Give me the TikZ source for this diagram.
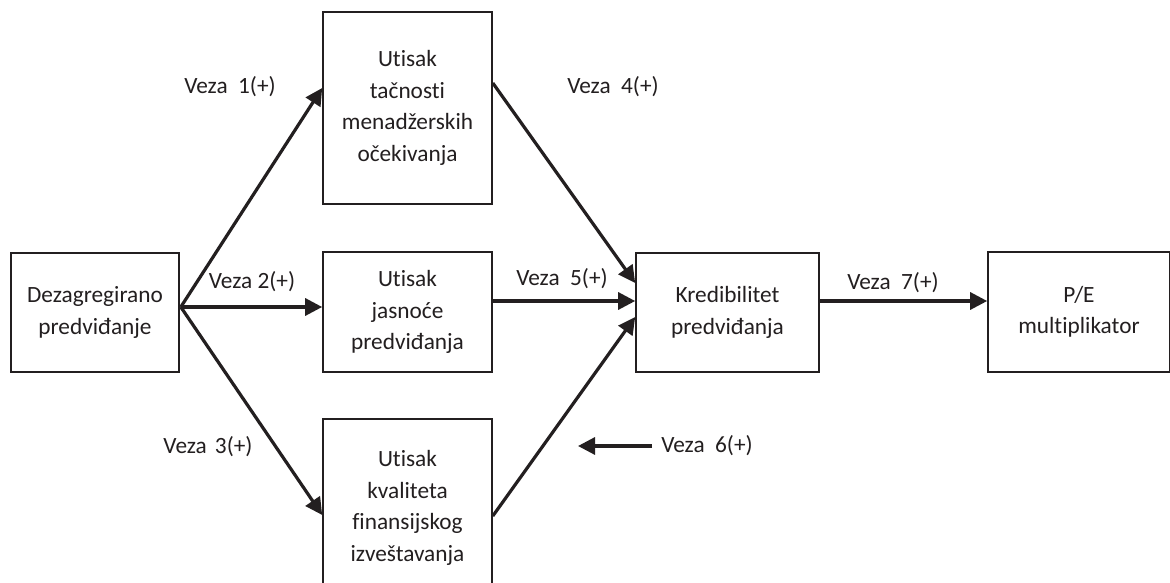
\documentclass[tikz,border=0pt]{standalone}
\usepackage{fontspec}
\setmainfont{Carlito}[Ligatures=NoCommon]
\usetikzlibrary{arrows.meta,calc}
\definecolor{ink}{HTML}{231F20}
\begin{document}
\begin{tikzpicture}[x=1pt,y=-1pt,
  box/.style={draw=ink,line width=1.6pt,inner sep=0pt,align=center,
    font=\fontsize{23.3}{31.5}\selectfont,text=ink},
  lbl/.style={inner sep=0pt,font=\fontsize{23.3}{31.5}\selectfont,text=ink},
  arr/.style={draw=ink,line width=3.2pt,-{Triangle[length=17pt,width=17pt]}}
]
\useasboundingbox[fill=white] (0,0) rectangle (1170,583);

% boxes
\node[box,minimum width=168pt,minimum height=119pt] (A) at (95,312.5)
  {Dezagregirano\\predviđanje};
\node[box,minimum width=169pt,minimum height=192pt] (B) at (407.5,108)
  {Utisak\\tačnosti\\menadžerskih\\očekivanja};
\node[box,minimum width=169pt,minimum height=120pt] (C) at (407.5,312)
  {Utisak\\jasnoće\\predviđanja};
\node[box,minimum width=169pt,minimum height=178pt] (D) at (407.5,508)
  {Utisak\\kvaliteta\\finansijskog\\izveštavanja};
\node[box,minimum width=183pt,minimum height=119pt] (E) at (727.5,312.5)
  {Kredibilitet\\predviđanja};
\node[box,minimum width=182pt,minimum height=120pt] (F) at (1079,312)
  {P/E\\multiplikator};

% connectors
\draw[arr] ($(A.east)+(1,-5.5)$) -- ($(B.west)+(0,-20)$);
\draw[arr] ($(A.east)+(1,-5.5)$) -- ($(C.west)+(0,-5)$);
\draw[arr] ($(A.east)+(1,-5.5)$) -- ($(D.west)+(0,7)$);
\draw[arr] ($(B.east)+(0,-25)$) -- ($(E.west)+(0,-29.5)$);
\draw[arr] ($(C.east)+(0,-11)$) -- ($(E.west)+(0,-11.5)$);
\draw[arr] ($(D.east)+(0,8)$) -- ($(E.west)+(0,4.5)$);
\draw[arr] ($(E.east)+(0,-11.5)$) -- ($(F.west)+(0,-11)$);
\coordinate (v6s) at (652,446);
\coordinate (v6e) at (578,446);
\draw[arr] (v6s) -- (v6e);

% labels
\node[lbl] (l1) at (230,87) {Veza\hspace{0.45em}1(+)};
\node[lbl] (l2) at (252,282) {Veza 2(+)};
\node[lbl] (l3) at (208,447) {Veza\hspace{0.35em}3(+)};
\node[lbl] (l4) at (613,87) {Veza\hspace{0.45em}4(+)};
\node[lbl] (l5) at (562,279) {Veza\hspace{0.45em}5(+)};
\node[lbl] (l6) at (707,446) {Veza\hspace{0.45em}6(+)};
\node[lbl] (l7) at (893,283) {Veza\hspace{0.45em}7(+)};
\end{tikzpicture}
\end{document}
